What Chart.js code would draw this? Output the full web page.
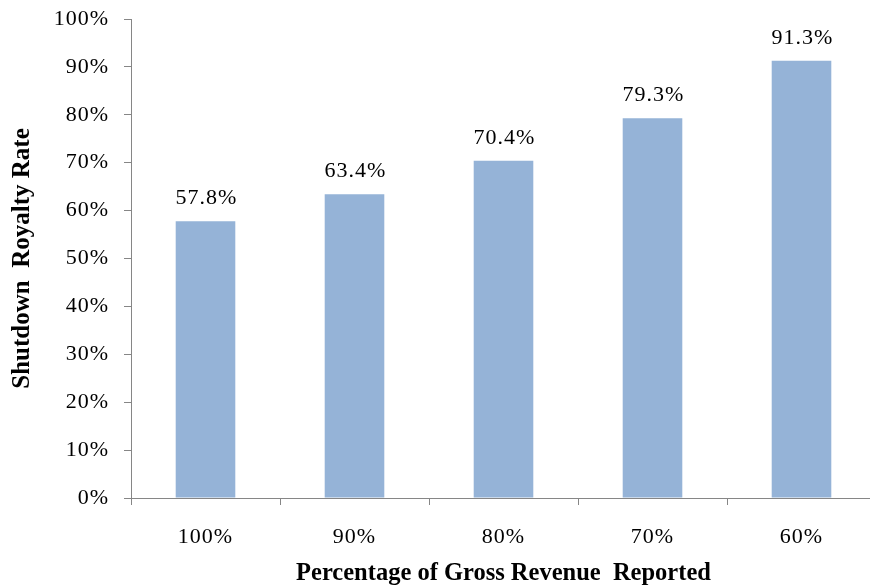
<!DOCTYPE html>
<html>
<head>
<meta charset="utf-8">
<script src="https://cdn.jsdelivr.net/npm/chart.js@4.4.1/dist/chart.umd.min.js"></script>
<style>
  html, body { margin: 0; padding: 0; background: #fff; overflow: hidden; }
  #wrap { width: 880px; height: 588px; }
</style>
</head>
<body>
<div id="wrap"><canvas id="chart"></canvas></div>
<script>
const categories = ['100%', '90%', '80%', '70%', '60%'];
const royaltyRates = [57.8, 63.4, 70.4, 79.3, 91.3];
const yTicks = [0, 10, 20, 30, 40, 50, 60, 70, 80, 90, 100];

const AXIS_GREY = '#868686';
const BAR_BLUE = '#95B3D7';
const SERIF = "'Liberation Serif', 'Times New Roman', serif";

// tick text in the picture is drawn a bit wider than normal Times
const spacing = {
  id: 'spacing',
  beforeUpdate(chart) {
    chart.ctx.letterSpacing = '1px';
  },
  beforeDraw(chart) {
    chart.ctx.letterSpacing = '1px';
    Object.values(chart.scales).forEach((scale) => {
      if (scale._plainTitle) return;
      const drawTitle = scale.drawTitle;
      scale.drawTitle = function () {
        const prev = this.ctx.letterSpacing;
        this.ctx.letterSpacing = '0px';
        drawTitle.call(this);
        this.ctx.letterSpacing = prev;
      };
      scale._plainTitle = true;
    });
  },
};

const valueLabels = {
  id: 'valueLabels',
  afterDatasetsDraw(chart) {
    const { ctx } = chart;
    const meta = chart.getDatasetMeta(0);
    ctx.save();
    ctx.font = `22px ${SERIF}`;
    ctx.fillStyle = '#000';
    ctx.textAlign = 'center';
    ctx.textBaseline = 'alphabetic';
    meta.data.forEach((bar, i) => {
      ctx.fillText(royaltyRates[i].toFixed(1) + '%', bar.x + 1, bar.y - 17);
    });
    ctx.restore();
  },
};

new Chart(document.getElementById('chart'), {
  type: 'bar',
  data: {
    labels: categories,
    datasets: [
      {
        label: 'Shutdown Royalty Rate',
        data: royaltyRates,
        backgroundColor: BAR_BLUE,
        borderWidth: 0,
        barPercentage: 0.4,
        categoryPercentage: 1,
      },
    ],
  },
  options: {
    responsive: true,
    maintainAspectRatio: false,
    animation: false,
    layout: { padding: { top: 19, right: 4, bottom: 0, left: 0 } },
    plugins: {
      legend: { display: false },
      tooltip: { enabled: false },
    },
    scales: {
      x: {
        offset: true,
        grid: {
          offset: true,
          drawOnChartArea: false,
          drawTicks: true,
          tickLength: 7,
          color: AXIS_GREY,
        },
        border: { color: AXIS_GREY, width: 1 },
        ticks: {
          color: '#000',
          padding: 19,
          font: { family: SERIF, size: 22 },
          maxRotation: 0,
        },
        title: {
          display: true,
          text: 'Percentage of Gross Revenue  Reported',
          color: '#000',
          font: { family: SERIF, size: 24.5, weight: 'bold' },
          padding: { top: -6, bottom: 0 },
        },
        afterFit(scale) {
          scale.height = 90;
          scale.paddingLeft = 0;
          scale.paddingRight = 0;
        },
      },
      y: {
        min: 0,
        max: 100,
        grid: {
          drawOnChartArea: false,
          drawTicks: true,
          tickLength: 7,
          color: AXIS_GREY,
        },
        border: { color: AXIS_GREY, width: 1 },
        afterBuildTicks(scale) {
          scale.ticks = yTicks.map((v) => ({ value: v }));
        },
        ticks: {
          color: '#000',
          padding: 15,
          font: { family: SERIF, size: 22 },
          callback: (v) => v + '%',
        },
        title: {
          display: true,
          text: 'Shutdown  Royalty Rate',
          color: '#000',
          font: { family: SERIF, size: 25, weight: 'bold' },
          padding: { top: 8, bottom: 0 },
        },
        afterFit(scale) {
          scale.width = 131;
          scale.paddingTop = 0;
          scale.paddingBottom = 0;
        },
      },
    },
  },
  plugins: [spacing, valueLabels],
});
</script>
</body>
</html>
